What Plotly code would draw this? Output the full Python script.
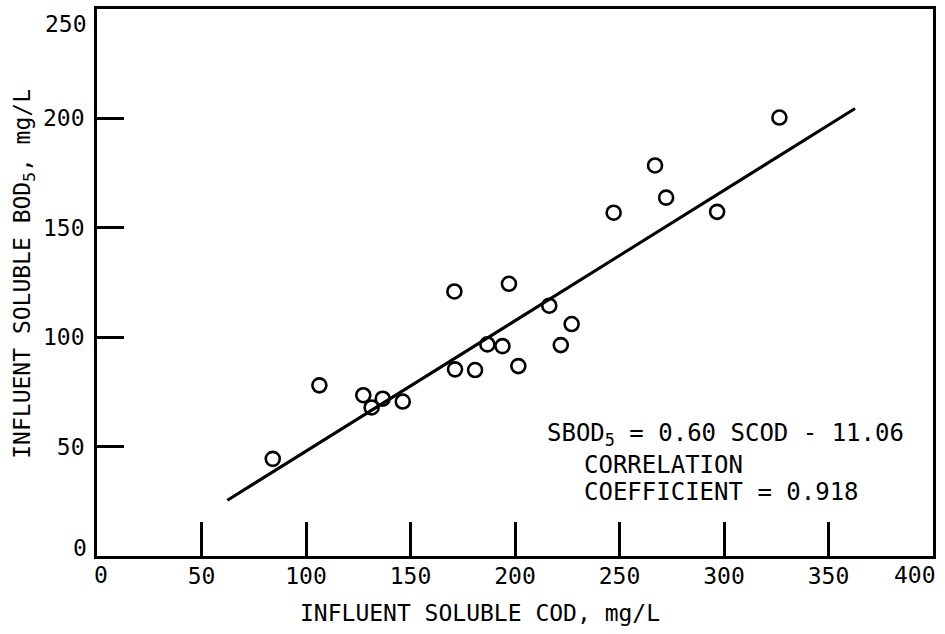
import plotly.graph_objects as go

# Measured data (influent soluble COD vs BOD5, mg/L)
cod = [84.1, 106.4, 127.4, 131.4, 136.7, 146.3, 171.0, 171.3, 180.9, 186.8,
       194.0, 197.1, 201.6, 216.4, 221.9, 227.1, 247.2, 267.0, 272.3, 296.7, 326.5]
bod = [44.4, 78.0, 73.5, 67.9, 71.9, 70.6, 120.9, 85.3, 85.0, 96.7,
       95.9, 124.4, 86.8, 114.4, 96.4, 106.0, 156.9, 178.5, 163.8, 157.3, 200.4]

# Regression line end points (as drawn)
line_x = [62.4, 362.7]
line_y = [25.5, 204.5]

x_ticks = [50, 100, 150, 200, 250, 300, 350]
y_ticks = [50, 100, 150, 200]

FONT = "DejaVu Sans Mono"
fs = 23

fig = go.Figure()
fig.add_trace(go.Scatter(x=line_x, y=line_y, mode="lines",
                         line=dict(color="black", width=3), showlegend=False))
fig.add_trace(go.Scatter(x=cod, y=bod, mode="markers",
                         marker=dict(symbol="circle-open", size=14, color="black",
                                     line=dict(width=2.6, color="black")),
                         showlegend=False))

fig.update_layout(
    width=945, height=634,
    margin=dict(l=97, r=12, t=6, b=78),
    plot_bgcolor="white", paper_bgcolor="white",
    font=dict(family=FONT, size=fs, color="black"),
    xaxis=dict(range=[0, 400], tickmode="array", tickvals=x_ticks,
               ticktext=[str(v) for v in x_ticks],
               ticks="inside", ticklen=34, tickwidth=2.5, tickcolor="black",
               showline=True, linecolor="black", linewidth=2.8, mirror=True,
               showgrid=False, zeroline=False, ticklabelstandoff=-3,
               tickfont=dict(family=FONT, size=fs)),
    yaxis=dict(range=[0, 250], tickmode="array", tickvals=y_ticks,
               ticktext=[str(v) for v in y_ticks],
               ticks="inside", ticklen=27, tickwidth=2.5, tickcolor="black",
               showline=True, linecolor="black", linewidth=2.8, mirror=True,
               showgrid=False, zeroline=False, ticklabelstandoff=5,
               tickfont=dict(family=FONT, size=fs)),
)

corner_labels = [
    dict(x=0, y=0, xref="x", yref="paper", text="0", xanchor="center", yanchor="middle", xshift=4, yshift=-19),
    dict(x=400, y=0, xref="x", yref="paper", text="400", xanchor="center", yanchor="middle", xshift=-18, yshift=-19),
    dict(x=0, y=0, xref="paper", yref="y", text="0", xanchor="right", yanchor="middle", xshift=-8, yshift=8),
    dict(x=0, y=250, xref="paper", yref="y", text="250", xanchor="right", yanchor="middle", xshift=-8, yshift=-15),
]
for a in corner_labels:
    fig.add_annotation(showarrow=False, font=dict(family=FONT, size=fs), **a)

# Axis titles
fig.add_annotation(text="INFLUENT SOLUBLE COD, mg/L", xref="paper", yref="paper",
                   x=0.458, y=0, xanchor="center", yanchor="middle", yshift=-57,
                   showarrow=False, font=dict(family=FONT, size=fs))
fig.add_annotation(text="INFLUENT SOLUBLE BOD<sub>5</sub>, mg/L", xref="paper", yref="paper",
                   x=0, y=0.516, xanchor="center", yanchor="middle", xshift=-73,
                   textangle=-90, showarrow=False, font=dict(family=FONT, size=fs))

# Regression annotation
fig.add_annotation(text="SBOD<sub>5</sub> = 0.60 SCOD - 11.06", x=214.4, y=55.5,
                   xanchor="left", yanchor="middle", showarrow=False,
                   font=dict(family=FONT, size=24))
fig.add_annotation(text="CORRELATION", x=232, y=41.4,
                   xanchor="left", yanchor="middle", showarrow=False,
                   font=dict(family=FONT, size=24))
fig.add_annotation(text="COEFFICIENT = 0.918", x=232, y=29.1,
                   xanchor="left", yanchor="middle", showarrow=False,
                   font=dict(family=FONT, size=24))

fig.write_html("out.html")
